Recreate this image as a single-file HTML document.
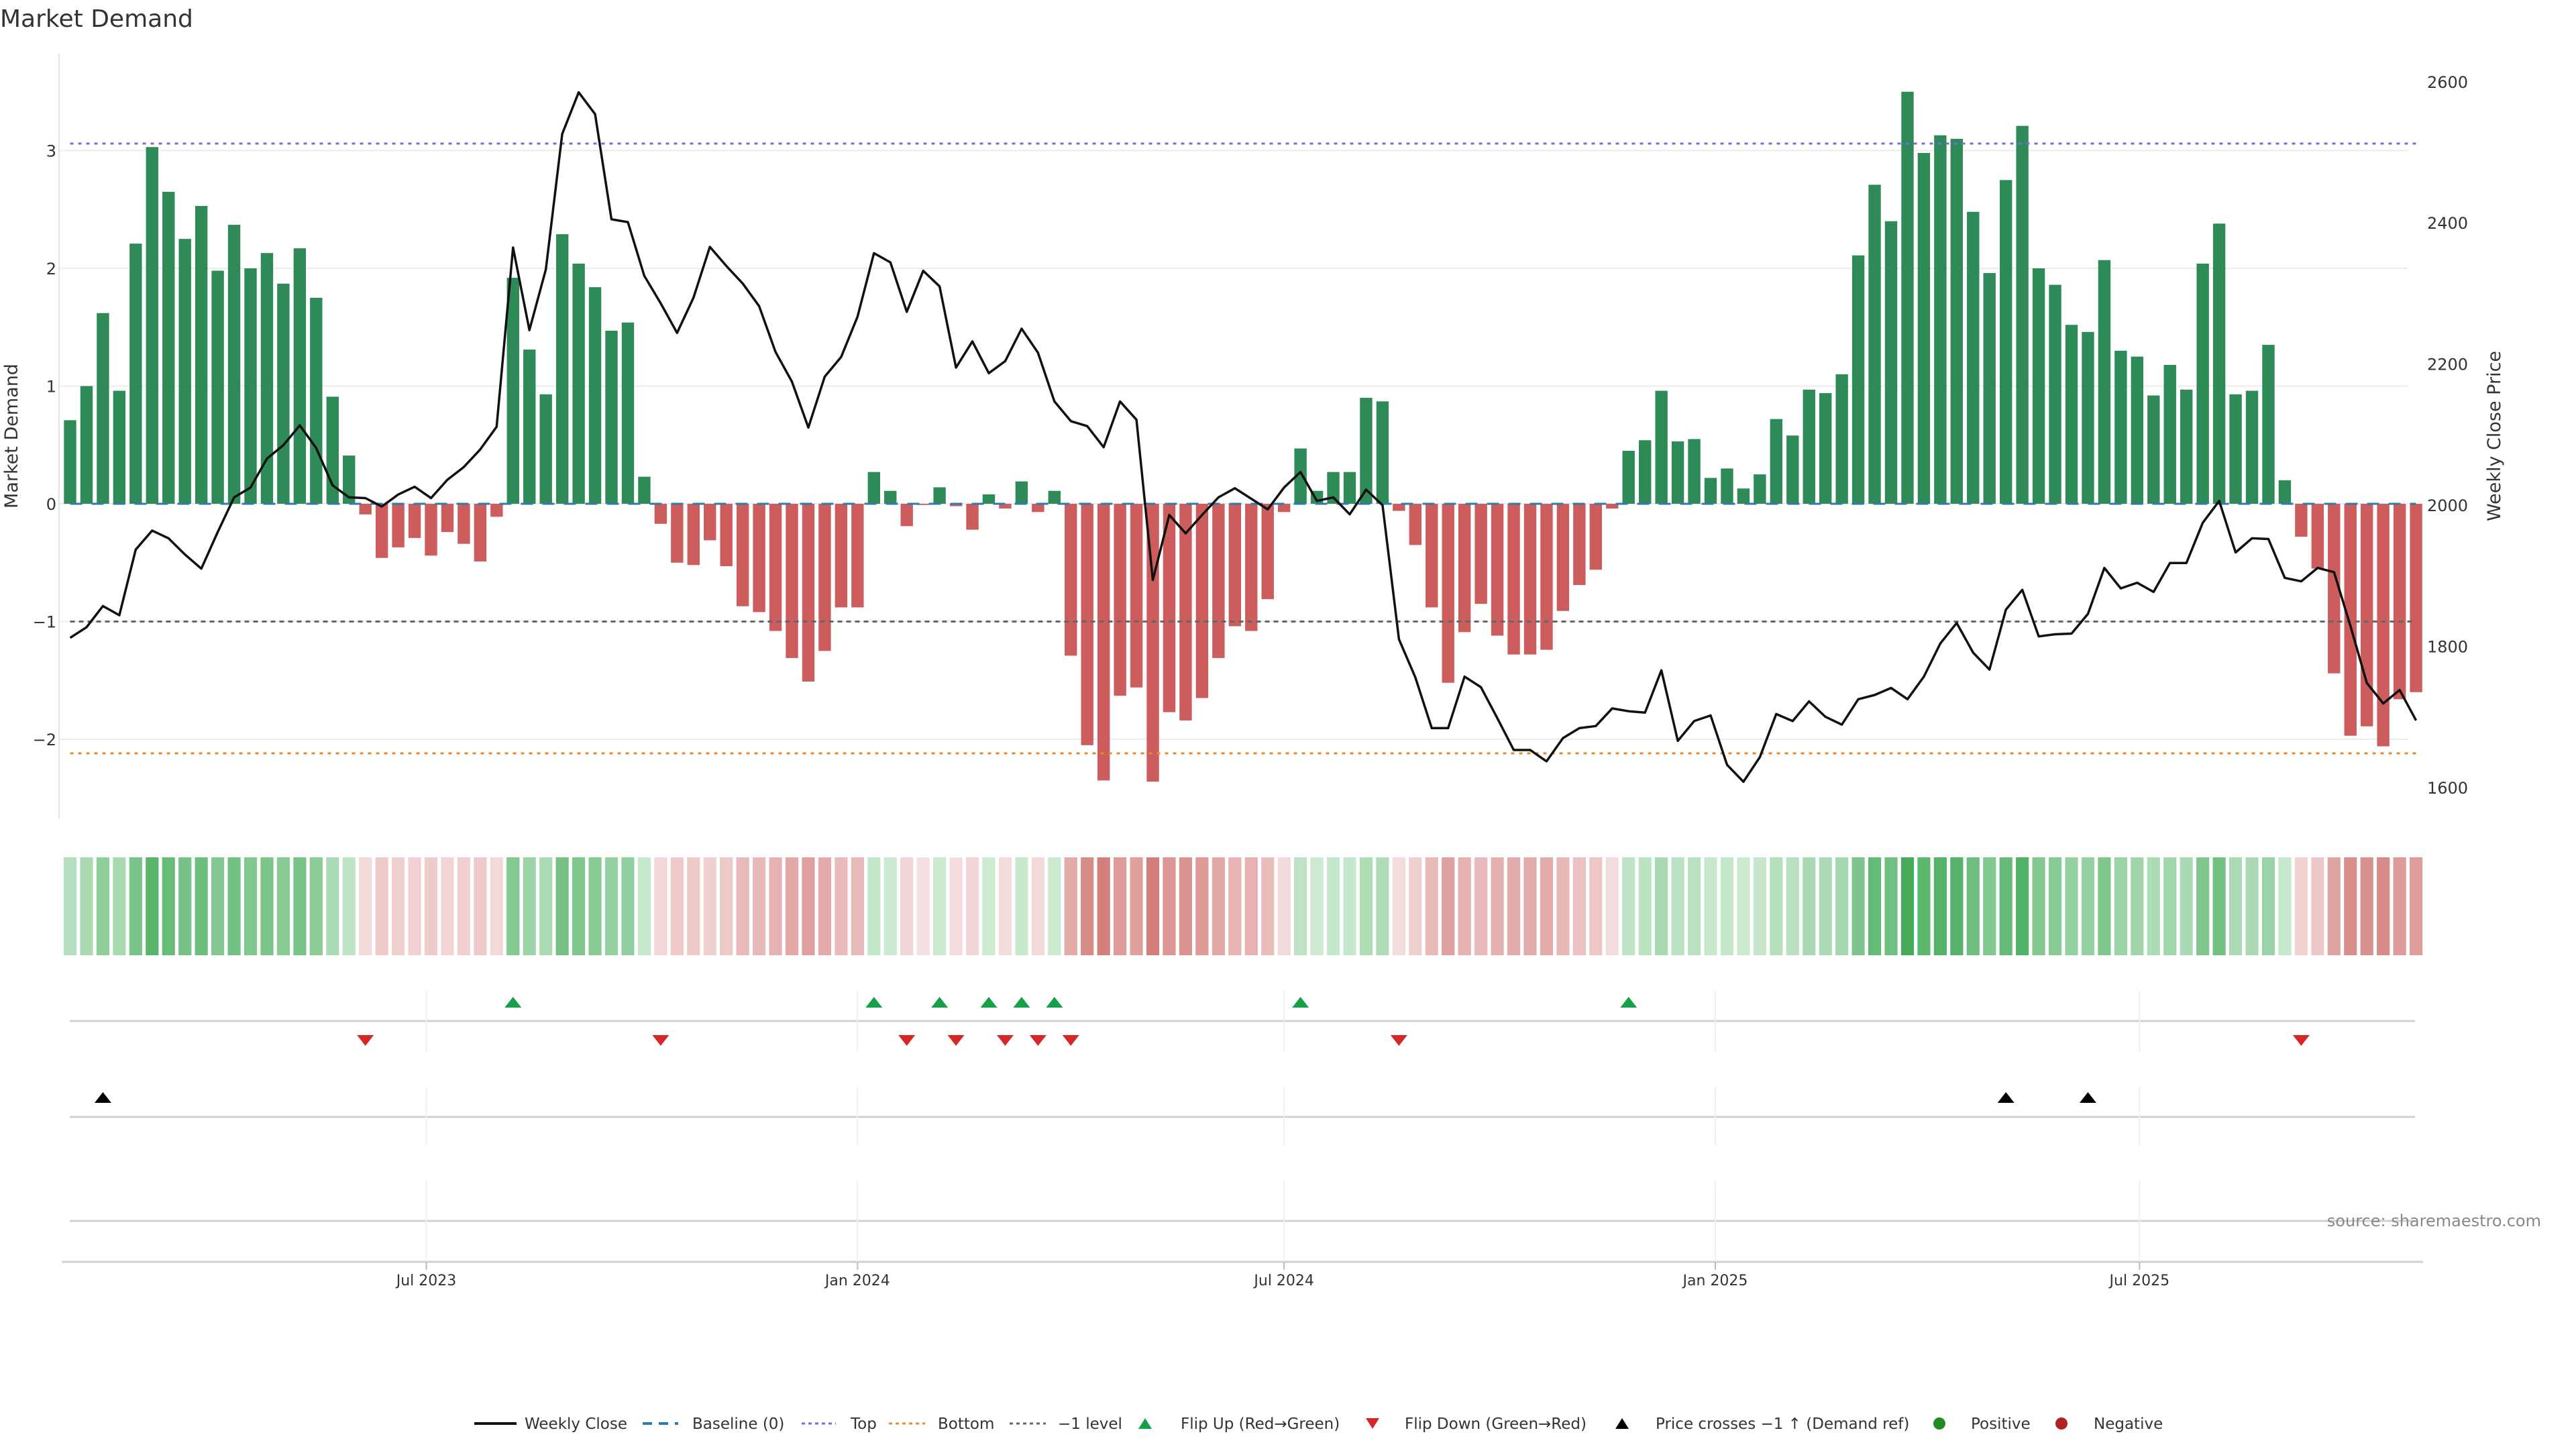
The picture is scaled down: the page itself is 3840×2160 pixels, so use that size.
<!DOCTYPE html>
<html><head><meta charset="utf-8"><title>Market Demand</title>
<style>
html,body{margin:0;padding:0;background:#fff;}
svg{display:block;font-family:"DejaVu Sans","Liberation Sans",sans-serif;}
</style></head>
<body>
<svg id="chart" xmlns="http://www.w3.org/2000/svg" width="3840" height="2160" viewBox="0 0 3840 2160">
<rect width="3840" height="2160" fill="#fff"/>
<text x="0" y="40" font-size="36" fill="#333">Market Demand</text>
<g id="grid"></g><g id="refs"></g><g id="bars"></g><g id="line"></g><g id="axes"></g>
<g id="heat"></g><g id="markers"></g><g id="legend"></g>
<text x="3788" y="1828" font-size="24" fill="#888" text-anchor="end">source: sharemaestro.com</text>
</svg>
<script>
const demand = [0.71,1.0,1.62,0.96,2.21,3.03,2.65,2.25,2.53,1.98,2.37,2.0,2.13,1.87,2.17,1.75,0.91,0.41,-0.09,-0.46,-0.37,-0.29,-0.44,-0.24,-0.34,-0.49,-0.11,1.92,1.31,0.93,2.29,2.04,1.84,1.47,1.54,0.23,-0.17,-0.5,-0.52,-0.31,-0.53,-0.87,-0.92,-1.08,-1.31,-1.51,-1.25,-0.88,-0.88,0.27,0.11,-0.19,-0.01,0.14,-0.02,-0.22,0.08,-0.04,0.19,-0.07,0.11,-1.29,-2.05,-2.35,-1.63,-1.56,-2.36,-1.77,-1.84,-1.65,-1.31,-1.04,-1.08,-0.81,-0.07,0.47,0.11,0.27,0.27,0.90,0.87,-0.06,-0.35,-0.88,-1.52,-1.09,-0.85,-1.12,-1.28,-1.28,-1.24,-0.91,-0.69,-0.56,-0.04,0.45,0.54,0.96,0.53,0.55,0.22,0.30,0.13,0.25,0.72,0.58,0.97,0.94,1.10,2.11,2.71,2.40,3.50,2.98,3.13,3.10,2.48,1.96,2.75,3.21,2.0,1.86,1.52,1.46,2.07,1.30,1.25,0.92,1.18,0.97,2.04,2.38,0.93,0.96,1.35,0.20,-0.28,-0.55,-1.44,-1.97,-1.89,-2.06,-1.66,-1.60];
const price = [1812,1827,1857,1844,1937,1964,1953,1930,1910,1962,2011,2025,2066,2085,2113,2081,2028,2011,2010,1998,2015,2026,2010,2036,2054,2079,2111,2365,2248,2334,2526,2585,2554,2405,2401,2325,2286,2244,2294,2366,2339,2314,2282,2217,2175,2110,2182,2210,2267,2357,2344,2274,2332,2310,2195,2232,2187,2204,2250,2216,2147,2119,2112,2082,2147,2121,1894,1986,1960,1986,2011,2024,2009,1994,2025,2047,2006,2011,1987,2022,2000,1810,1756,1684,1684,1757,1742,1698,1653,1653,1637,1670,1684,1687,1712,1708,1706,1766,1666,1694,1702,1632,1608,1643,1704,1694,1722,1700,1689,1725,1731,1741,1725,1757,1804,1833,1791,1767,1852,1880,1814,1817,1818,1846,1911,1882,1890,1877,1918,1918,1975,2006,1933,1953,1952,1897,1892,1911,1905,1829,1748,1719,1738,1695];
const priceCrossIdx = [2,118,123];
const leftTicks = [-2,-1,0,1,2,3];
const leftTickLabels = ["\u22122","\u22121","0","1","2","3"];
const rightTicks = [1600,1800,2000,2200,2400,2600];
const dateTicks = ["2023-07-01","2024-01-01","2024-07-01","2025-01-01","2025-07-01"];
const dateTickLabels = ["Jul 2023","Jan 2024","Jul 2024","Jan 2025","Jul 2025"];
const topLevel = 3.06, bottomLevel = -2.12, minusLevel = -1, baseline = 0;
const firstWeek = "2023-01-30";

const NS="http://www.w3.org/2000/svg";
function mk(parent,tag,attrs,text){const e=document.createElementNS(NS,tag);for(const k in attrs)e.setAttribute(k,attrs[k]);if(text!==undefined)e.textContent=text;document.getElementById(parent).appendChild(e);return e;}
const X0=104.5, STEP=24.455;
const xi = i => X0 + i*STEP;
const yL = v => 751 - v*175.5;
const yR = p => 753 - (p-2000)*1.052;
const xd = d => X0 + (new Date(d)-new Date(firstWeek))/864e5/7*STEP;
const PL=88, PR=3590;

leftTicks.forEach((t,i)=>{
  let g=mk('grid','line',{x1:PL,x2:PR,y1:yL(t),y2:yL(t),stroke:'#ececec','stroke-width':2});
  
  
  let l=mk('axes','text',{x:84,y:yL(t)+9,'font-size':24,fill:'#333','text-anchor':'end'},leftTickLabels[i]);
  
  
});
let sp=mk('axes','line',{x1:PL,x2:PL,y1:80,y2:1220,stroke:'#e4e4e4','stroke-width':2});


rightTicks.forEach(t=>{
  let l=mk('axes','text',{x:3618,y:yR(t)+9,'font-size':24,fill:'#333'},String(t));
  
  
});
let lt=mk('axes','text',{x:0,y:0,'font-size':27,fill:'#333','text-anchor':'middle',transform:'translate(26,650) rotate(-90)'},'Market Demand');


let rt=mk('axes','text',{x:0,y:0,'font-size':27,fill:'#333','text-anchor':'middle',transform:'translate(3727,650) rotate(-90)'},'Weekly Close Price');



demand.forEach((v,i)=>{
  const y0=yL(0), y1=yL(v);
  let r=mk('bars','rect',{x:xi(i)-9.2,y:Math.min(y0,y1),width:18.4,height:Math.max(1,Math.abs(y1-y0)),fill:v>=0?'#2e8b57':'#cd5c5c'});
  
  
});

const refs=[[topLevel,'#7b68ee','5,7','top-line'],[bottomLevel,'#e8892b','5,7','bottom-line'],[minusLevel,'#666','7,6','minus-one-level-line'],[baseline,'#2f7bb0','18,14','baseline-line']];
refs.forEach(r=>{
  let l=mk('refs','line',{x1:X0,x2:xi(demand.length-1),y1:yL(r[0]),y2:yL(r[0]),stroke:r[1],'stroke-width':3,'stroke-dasharray':r[2]});
  
  
});
document.getElementById('bars').parentNode.insertBefore(document.getElementById('bars'),document.getElementById('refs'));

let pts=price.map((p,i)=>xi(i).toFixed(1)+','+yR(p).toFixed(1)).join(' ');
let pl=mk('line','polyline',{points:pts,fill:'none',stroke:'#111','stroke-width':3.5,'stroke-linejoin':'round'});



function lerp(a,b,t){return Math.round(a+(b-a)*t);}
demand.forEach((v,i)=>{
  let c;
  if(v>=0){const t=Math.min(v/3.5,1);c=`rgb(${lerp(208,70,t)},${lerp(236,172,t)},${lerp(212,92,t)})`;}
  else{const t=Math.min(-v/2.4,1);c=`rgb(${lerp(245,210,t)},${lerp(222,125,t)},${lerp(222,122,t)})`;}
  let r=mk('heat','rect',{x:xi(i)-9.6,y:1278,width:19.2,height:146,fill:c});
  
  
});

const rowLines=[1522,1665,1820];
rowLines.forEach(y=>{
  let l=mk('markers','line',{x1:104,x2:3600,y1:y,y2:y,stroke:'#d0d0d0','stroke-width':3});
  
  
});
let ax=mk('markers','line',{x1:92,x2:3612,y1:1881,y2:1881,stroke:'#d0d0d0','stroke-width':3});


dateTicks.forEach((d,i)=>{
  const x=xd(d);
  [[1478,1567],[1620,1707],[1761,1881]].forEach(s=>{
    let g=mk('markers','line',{x1:x,x2:x,y1:s[0],y2:s[1],stroke:'#eef0f3','stroke-width':2});
    
    
  });
  let tk=mk('markers','line',{x1:x,x2:x,y1:1881,y2:1893,stroke:'#bbb','stroke-width':2});
  
  
  let t=mk('markers','text',{x:x,y:1916,'font-size':22,fill:'#333','text-anchor':'middle'},dateTickLabels[i]);
  
  
});
function tri(x,y,up,col,name){
  const h=16,w=12.5;
  const p=up?`${x-w},${y+h/2} ${x+w},${y+h/2} ${x},${y-h/2}`:`${x-w},${y-h/2} ${x+w},${y-h/2} ${x},${y+h/2}`;
  let e=mk('markers','polygon',{points:p,fill:col});
  
  
}
for(let i=1;i<demand.length;i++){
  const a=demand[i-1]>=0, b=demand[i]>=0;
  if(!a&&b) tri(xi(i),1494,true,'#16a048','flip-up-marker');
  if(a&&!b) tri(xi(i),1551,false,'#d62728','flip-down-marker');
}
priceCrossIdx.forEach(i=>tri(xi(i),1636,true,'#000','price-cross-marker'));

const LY=2122;
function legLine(x1,x2,col,dash,w,name){let l=mk('legend','line',{x1:x1,x2:x2,y1:LY,y2:LY,stroke:col,'stroke-width':w,'stroke-dasharray':dash});}
function legText(x,s,name){let t=mk('legend','text',{x:x,y:LY+8,'font-size':23,fill:'#333'},s);}
legLine(707,770,'#111','',4,'legend-weekly-close-swatch');legText(782,'Weekly Close','legend-weekly-close');
legLine(958,1011,'#2f7bb0','14,10',4,'legend-baseline-swatch');legText(1032,'Baseline (0)','legend-baseline');
legLine(1195,1246,'#7b68ee','5,5',3,'legend-top-swatch');legText(1268,'Top','legend-top');
legLine(1325,1379,'#e8892b','5,5',3,'legend-bottom-swatch');legText(1398,'Bottom','legend-bottom');
legLine(1505,1559,'#666','5,5',3,'legend-minus-one-swatch');legText(1577,'\u22121 level','legend-minus-one');
function legTri(x,up,col,name){const h=16,w=10;const y=LY;const p=up?`${x-w},${y+h/2} ${x+w},${y+h/2} ${x},${y-h/2}`:`${x-w},${y-h/2} ${x+w},${y-h/2} ${x},${y+h/2}`;let e=mk('legend','polygon',{points:p,fill:col});}
legTri(1707,true,'#16a048','legend-flip-up-swatch');legText(1760,'Flip Up (Red\u2192Green)','legend-flip-up');
legTri(2046,false,'#d62728','legend-flip-down-swatch');legText(2094,'Flip Down (Green\u2192Red)','legend-flip-down');
legTri(2418,true,'#000','legend-price-cross-swatch');legText(2468,'Price crosses \u22121 \u2191 (Demand ref)','legend-price-cross');
let c1=mk('legend','circle',{cx:2891,cy:LY,r:9,fill:'#228b22'});
legText(2938,'Positive','legend-positive');
let c2=mk('legend','circle',{cx:3073,cy:LY,r:9,fill:'#b22222'});
legText(3121,'Negative','legend-negative');
</script>
</body></html>
